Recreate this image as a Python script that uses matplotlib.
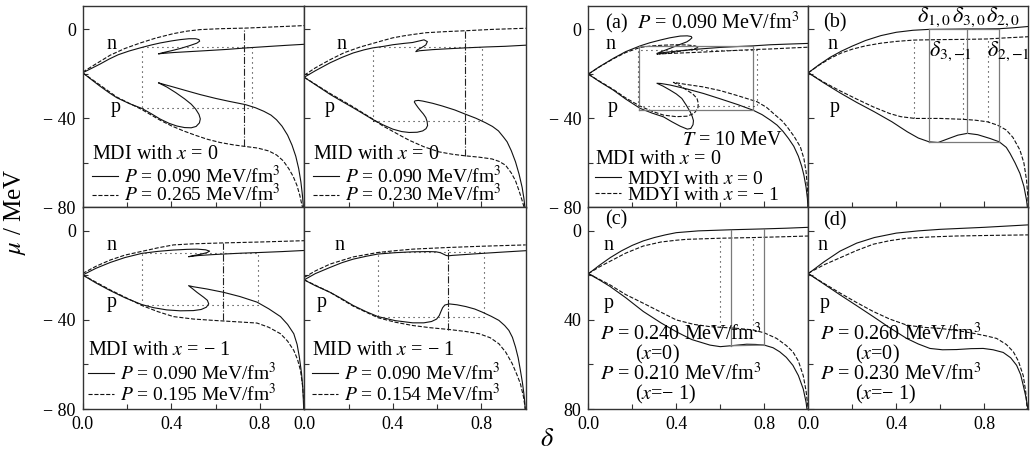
import numpy as np
import matplotlib
matplotlib.use("Agg")
import matplotlib.pyplot as plt
from matplotlib.lines import Line2D

plt.rcParams['font.family'] = ['Liberation Serif', 'DejaVu Serif']
plt.rcParams['mathtext.fontset'] = 'stix'

# ---- data: (delta, mu) pairs ----
# MDI, x = 0 (top left)
mdi0_n090 = [(0, -19.5), (0.04, -17.5), (0.078, -15.6), (0.12, -13.3), (0.16, -11.4), (0.21, -9.7),
             (0.26, -8.3), (0.31, -7.0), (0.35, -6.1), (0.40, -5.2), (0.44, -4.6), (0.48, -4.2),
             (0.51, -4.2), (0.525, -4.6), (0.528, -5.3), (0.515, -6.2), (0.48, -7.4), (0.44, -8.6),
             (0.40, -9.6), (0.36, -10.5), (0.342, -11.0), (0.36, -10.8), (0.41, -10.4), (0.48, -10.0),
             (0.55, -9.6), (0.65, -9.0), (0.742, -8.3), (0.85, -7.6), (0.93, -7.1), (1.0, -6.7)]
mdi0_n265 = [(0, -19.2), (0.06, -15.5), (0.124, -11.6), (0.19, -8.6), (0.26, -6.1), (0.33, -3.9),
             (0.41, -1.9), (0.47, -0.8), (0.53, -0.1), (0.62, 0.3), (0.742, 0.6), (0.86, 1.1), (1.0, 1.7)]
mdi0_p090 = [(0, -19.5), (0.04, -22.6), (0.078, -25.5), (0.12, -28.5), (0.154, -30.7), (0.21, -33.3),
             (0.267, -35.5), (0.31, -37.9), (0.35, -40.3), (0.39, -42.2), (0.425, -43.4), (0.46, -44.1),
             (0.49, -44.2), (0.512, -43.6), (0.527, -42.0), (0.531, -40.2), (0.525, -38.2), (0.51, -35.8),
             (0.49, -33.6), (0.46, -31.2), (0.42, -28.4), (0.38, -25.9), (0.35, -24.4), (0.342, -24.0),
             (0.37, -24.8), (0.41, -25.9), (0.47, -27.6), (0.531, -29.3), (0.6, -31.0), (0.66, -32.3),
             (0.735, -33.8), (0.78, -35.2), (0.818, -36.8), (0.85, -38.5), (0.875, -40.6), (0.9, -43.5),
             (0.925, -47.5), (0.945, -52.0), (0.962, -57.0), (0.975, -62.5), (0.985, -68.5),
             (0.992, -74.5), (0.997, -80.5)]
mdi0_p265 = [(0, -19.5), (0.078, -25.0), (0.154, -30.4), (0.21, -33.2), (0.267, -36.0), (0.31, -38.5),
             (0.35, -40.8), (0.40, -43.3), (0.455, -45.6), (0.51, -47.6), (0.561, -49.3), (0.62, -50.8),
             (0.682, -51.9), (0.735, -52.6), (0.79, -53.3), (0.84, -54.6), (0.875, -56.4), (0.905, -59.0),
             (0.93, -62.5), (0.95, -66.0), (0.967, -70.0), (0.98, -74.5), (0.99, -79.0), (0.995, -81)]
mdi0_box_x = [0.267, 0.765]
mdi0_box_y = [-35.5, -8.0]
mdi0_cut_x = 0.73
mdi0_cut_y = [-52.6, 0.6]

# MID, x = 0 (top, second)
mid0_n090 = [(0, -21.5), (0.05, -18.6), (0.117, -15.0), (0.17, -12.6), (0.221, -10.6), (0.27, -9.2),
             (0.31, -8.3), (0.36, -7.6), (0.40, -6.9), (0.45, -6.3), (0.489, -5.9), (0.541, -4.7),
             (0.556, -5.5), (0.549, -7.0), (0.53, -8.2), (0.511, -9.2), (0.504, -10.0), (0.52, -9.6),
             (0.579, -9.1), (0.65, -8.7), (0.728, -8.3), (0.82, -7.9), (0.908, -7.6), (1.0, -7.1)]
mid0_n230 = [(0, -20.6), (0.05, -17.3), (0.117, -13.6), (0.18, -10.5), (0.25, -8.0), (0.31, -6.3),
             (0.36, -4.9), (0.40, -3.8), (0.45, -2.9), (0.49, -2.3), (0.55, -1.5), (0.64, -1.0),
             (0.73, -0.6), (0.85, 0.0), (1.0, 0.5)]
mid0_p090 = [(0, -21.5), (0.05, -24.8), (0.117, -29.2), (0.17, -32.3), (0.221, -35.2), (0.27, -38.1),
             (0.31, -40.5), (0.354, -42.8), (0.40, -44.8), (0.44, -45.9), (0.474, -46.3), (0.51, -46.2),
             (0.535, -45.6), (0.55, -44.6), (0.557, -43.2), (0.555, -41.4), (0.549, -39.6), (0.538, -38.0),
             (0.526, -36.6), (0.514, -35.1), (0.504, -33.7), (0.497, -32.6), (0.50, -32.1), (0.515, -31.9),
             (0.535, -32.2), (0.58, -33.2), (0.623, -34.4), (0.68, -36.2), (0.728, -38.1), (0.775, -39.9),
             (0.818, -41.9), (0.85, -43.6), (0.877, -45.6), (0.9, -48.4), (0.916, -50.5), (0.935, -54.5),
             (0.954, -59.5), (0.97, -65.0), (0.984, -71.0), (0.992, -76.0), (0.997, -80.5)]
mid0_p230 = [(0, -21.5), (0.117, -28.8), (0.221, -34.8), (0.31, -40.3), (0.354, -43.3), (0.40, -45.8),
             (0.44, -48.0), (0.474, -49.8), (0.54, -52.7), (0.608, -55.0), (0.67, -56.1), (0.728, -56.8),
             (0.79, -57.4), (0.848, -58.2), (0.88, -59.3), (0.909, -61.0), (0.935, -64.5), (0.954, -68.0),
             (0.97, -72.5), (0.984, -76.9), (0.996, -81)]
mid0_box_x = [0.312, 0.803]
mid0_box_y = [-41.1, -8.0]
mid0_cut_x = 0.728
mid0_cut_y = [-56.8, -0.6]

# MDI, x = -1 (bottom left)
mdim1_n090 = [(0, -19.8), (0.06, -16.8), (0.124, -14.2), (0.19, -12.0), (0.267, -10.1), (0.34, -9.2),
              (0.41, -8.6), (0.47, -8.3), (0.516, -8.2), (0.555, -8.5), (0.573, -9.1), (0.56, -9.8),
              (0.531, -10.5), (0.50, -11.1), (0.478, -11.6), (0.52, -11.1), (0.58, -10.7), (0.636, -10.4),
              (0.72, -10.0), (0.802, -9.7), (0.9, -9.3), (1.0, -8.8)]
mdim1_n195 = [(0, -19.1), (0.06, -15.9), (0.124, -13.1), (0.19, -10.9), (0.267, -9.2), (0.34, -7.6),
              (0.41, -6.3), (0.5, -5.8), (0.636, -5.4), (0.8, -5.0), (1.0, -4.4)]
mdim1_p090 = [(0, -19.8), (0.06, -23.4), (0.124, -26.8), (0.19, -30.0), (0.267, -33.1), (0.32, -34.5),
              (0.38, -35.5), (0.44, -35.9), (0.5, -35.8), (0.535, -35.3), (0.558, -34.3), (0.569, -32.8),
              (0.563, -31.2), (0.546, -29.8), (0.516, -27.6), (0.495, -25.9), (0.478, -24.6), (0.50, -25.1),
              (0.561, -26.1), (0.636, -27.6), (0.71, -29.5), (0.787, -32.0), (0.84, -35.0), (0.893, -38.5),
              (0.925, -42.0), (0.953, -46.2), (0.968, -51.0), (0.978, -56.6), (0.988, -64.0),
              (0.994, -71.0), (0.998, -80.5)]
mdim1_p195 = [(0, -19.8), (0.124, -26.5), (0.267, -33.5), (0.34, -36.3), (0.41, -38.5), (0.5, -39.6),
              (0.59, -40.2), (0.69, -40.8), (0.787, -41.4), (0.84, -43.3), (0.893, -46.2), (0.925, -49.5),
              (0.953, -53.7), (0.97, -57.8), (0.983, -62.6), (0.992, -69.0), (0.997, -75.0), (1.0, -81)]
mdim1_box_x = [0.267, 0.79]
mdim1_box_y = [-33.1, -10.1]
mdim1_cut_x = 0.633
mdim1_cut_y = [-40.2, -5.4]

# MID, x = -1 (bottom, second)
midm1_n090 = [(0, -22.0), (0.05, -19.2), (0.117, -16.4), (0.17, -14.3), (0.221, -12.7), (0.28, -11.4),
              (0.333, -10.4), (0.41, -9.8), (0.49, -9.4), (0.56, -9.3), (0.595, -9.4), (0.615, -9.8),
              (0.628, -10.4), (0.64, -11.0), (0.65, -11.2), (0.67, -11.0), (0.73, -10.6), (0.804, -10.1),
              (0.9, -9.5), (1.0, -8.9)]
midm1_n154 = [(0, -20.9), (0.05, -18.0), (0.117, -14.9), (0.221, -11.7), (0.333, -9.7), (0.41, -8.9),
              (0.49, -8.2), (0.64, -7.5), (0.8, -6.9), (1.0, -6.3)]
midm1_p090 = [(0, -22.0), (0.05, -24.6), (0.117, -27.6), (0.17, -30.5), (0.221, -33.5), (0.28, -36.3),
              (0.333, -38.5), (0.41, -40.3), (0.49, -41.3), (0.54, -41.3), (0.575, -40.7), (0.598, -39.6),
              (0.61, -38.0), (0.617, -36.3), (0.625, -34.5), (0.635, -33.3), (0.655, -32.8), (0.69, -33.2),
              (0.73, -34.0), (0.77, -35.1), (0.804, -36.5), (0.845, -38.4), (0.879, -40.2), (0.905, -42.5),
              (0.924, -44.7), (0.94, -47.8), (0.954, -52.2), (0.966, -57.0), (0.976, -62.6),
              (0.985, -68.0), (0.991, -72.5), (0.996, -77.0), (0.998, -81)]
midm1_p154 = [(0, -22.0), (0.117, -27.6), (0.221, -33.8), (0.333, -39.0), (0.41, -41.0), (0.49, -42.5),
              (0.57, -43.5), (0.655, -44.3), (0.73, -45.2), (0.79, -46.2), (0.84, -48.0), (0.879, -50.7),
              (0.91, -54.5), (0.939, -59.6), (0.96, -64.5), (0.976, -68.6), (0.99, -74.5), (1.0, -81)]
midm1_box_x = [0.333, 0.81]
midm1_box_y = [-38.7, -9.7]
midm1_cut_x = 0.65
midm1_cut_y = [-44.3, -7.5]

# (a) P = 0.090, T = 10 MeV
a_n0 = [(0, -20.1), (0.05, -16.8), (0.114, -13.0), (0.17, -10.0), (0.236, -7.4), (0.28, -6.0),
        (0.327, -4.8), (0.37, -3.8), (0.418, -3.0), (0.45, -2.9), (0.468, -3.2), (0.471, -3.8),
        (0.46, -4.8), (0.448, -5.6), (0.41, -7.0), (0.372, -8.5), (0.34, -9.7), (0.312, -10.8),
        (0.36, -10.2), (0.448, -9.3), (0.52, -8.7), (0.6, -8.1), (0.68, -7.7), (0.749, -7.4),
        (0.828, -6.9), (0.91, -6.6), (1.0, -6.3)]
a_nm1 = [(0, -20.1), (0.05, -16.9), (0.114, -13.2), (0.17, -10.4), (0.236, -8.1), (0.29, -7.4),
         (0.342, -7.1), (0.40, -6.9), (0.448, -7.0), (0.485, -7.4), (0.501, -8.1), (0.48, -8.8),
         (0.418, -9.8), (0.36, -10.6), (0.312, -11.1), (0.37, -10.8), (0.448, -10.5), (0.52, -10.2),
         (0.6, -9.8), (0.68, -9.4), (0.767, -9.0), (0.828, -8.8), (0.91, -8.4), (1.0, -8.0)]
a_p0 = [(0, -20.1), (0.05, -23.4), (0.114, -27.3), (0.17, -31.3), (0.236, -35.5), (0.29, -37.6),
        (0.342, -39.3), (0.38, -41.5), (0.418, -43.5), (0.45, -44.8), (0.466, -44.5), (0.476, -42.8),
        (0.478, -41.0), (0.472, -39.0), (0.463, -37.0), (0.445, -34.0), (0.425, -31.0), (0.40, -29.0),
        (0.372, -27.3), (0.34, -25.5), (0.312, -24.2), (0.33, -24.3), (0.372, -25.0), (0.45, -26.8),
        (0.524, -28.8), (0.6, -31.2), (0.68, -33.8), (0.749, -36.3), (0.79, -38.3), (0.828, -40.8),
        (0.858, -43.0), (0.885, -45.8), (0.91, -49.0), (0.934, -52.5), (0.955, -57.0), (0.97, -61.5),
        (0.98, -65.5), (0.99, -71.0), (0.996, -76.0), (0.999, -81)]
a_pm1 = [(0, -20.1), (0.05, -23.2), (0.114, -27.0), (0.17, -30.8), (0.236, -34.5), (0.29, -36.8),
         (0.342, -38.5), (0.40, -39.2), (0.448, -39.0), (0.48, -37.8), (0.498, -35.5), (0.50, -33.2),
         (0.494, -31.0), (0.475, -29.0), (0.448, -27.3), (0.42, -25.5), (0.387, -23.8), (0.45, -24.8),
         (0.52, -25.8), (0.6, -27.5), (0.68, -29.8), (0.767, -32.5), (0.81, -35.0), (0.85, -38.5),
         (0.88, -41.0), (0.904, -43.8), (0.935, -48.0), (0.964, -52.8), (0.98, -58.0), (0.99, -64.0),
         (0.996, -71.0), (1.0, -81)]
a_box0_x = [0.232, 0.749]
a_box0_y = [-36.3, -7.4]
a_boxm1_x = [0.225, 0.767]
a_boxm1_y = [-34.5, -9.3]

# (b) P = 0.205 (x=0), 0.175 (x=-1)
b_n0 = [(0, -19.5), (0.05, -15.8), (0.1, -12.5), (0.15, -9.8), (0.2, -7.5), (0.26, -5.0), (0.33, -2.8),
        (0.4, -1.3), (0.476, -0.4), (0.549, 0.0), (0.65, 0.1), (0.72, 0.2), (0.8, 0.2), (0.868, 0.3),
        (0.93, 0.7), (1.0, 1.3)]
b_nm1 = [(0, -19.5), (0.05, -16.0), (0.1, -13.0), (0.15, -10.6), (0.2, -8.9), (0.26, -7.4), (0.33, -6.2),
         (0.4, -5.4), (0.48, -4.8), (0.6, -4.6), (0.705, -4.5), (0.815, -4.3), (0.9, -3.8), (1.0, -3.3)]
b_p0 = [(0, -19.5), (0.07, -24.0), (0.144, -28.5), (0.22, -32.8), (0.3, -37.0), (0.38, -41.5),
        (0.45, -46.0), (0.5, -48.8), (0.549, -50.5), (0.59, -50.8), (0.644, -48.8), (0.68, -47.5),
        (0.723, -46.7), (0.77, -47.3), (0.826, -49.0), (0.868, -50.5), (0.9, -53.0), (0.917, -55.7),
        (0.94, -60.0), (0.962, -64.7), (0.98, -70.5), (0.992, -76.7), (0.997, -81)]
b_pm1 = [(0, -19.5), (0.07, -23.7), (0.144, -27.6), (0.22, -31.3), (0.295, -34.8), (0.37, -37.8),
         (0.42, -39.2), (0.485, -40.0), (0.6, -40.0), (0.705, -40.4), (0.76, -40.8), (0.814, -41.5),
         (0.86, -43.0), (0.9, -45.2), (0.93, -48.5), (0.962, -54.2), (0.98, -60.0), (0.992, -67.7),
         (0.998, -75.0), (1.0, -81)]
b_d0 = [0.549, 0.723, 0.868]          # delta_{1,0}, delta_{3,0}, delta_{2,0}
b_d0_bottom = [-50.5, -46.7, -50.5]
b_d0_top = 0.0
b_dm1 = [0.48, 0.705, 0.815]
b_dm1_top = [-4.8, -4.5, -4.3]
b_dm1_bottom = [-40.0, -40.4, -41.5]

# (c) P = 0.240 (x=0), 0.210 (x=-1)
c_n0 = [(0, -19.3), (0.05, -15.5), (0.1, -12.0), (0.15, -9.0), (0.2, -6.5), (0.25, -4.5), (0.3, -3.0),
        (0.35, -1.8), (0.4, -0.8), (0.5, 0.0), (0.647, 0.5), (0.8, 0.9), (0.9, 1.2), (1.0, 1.6)]
c_nm1 = [(0, -19.2), (0.05, -16.2), (0.1, -13.6), (0.17, -10.0), (0.25, -6.8), (0.33, -5.0), (0.4, -4.2),
         (0.447, -3.8), (0.6, -3.3), (0.75, -3.0), (0.9, -2.6), (1.0, -2.3)]
c_p0 = [(0, -19.2), (0.05, -22.0), (0.098, -24.9), (0.17, -30.0), (0.25, -36.2), (0.33, -41.3),
        (0.4, -45.3), (0.47, -48.8), (0.553, -51.3), (0.6, -52.0), (0.647, -51.6), (0.72, -50.9),
        (0.76, -51.0), (0.8, -51.3), (0.84, -52.5), (0.87, -54.3), (0.9, -56.8), (0.93, -60.4),
        (0.955, -65.0), (0.977, -71.0), (0.99, -77.0), (0.995, -81)]
c_pm1 = [(0, -19.2), (0.098, -24.2), (0.17, -28.6), (0.25, -32.5), (0.33, -36.5), (0.4, -40.0),
         (0.48, -42.0), (0.553, -43.0), (0.6, -43.3), (0.68, -43.8), (0.75, -44.5), (0.8, -45.8),
         (0.856, -48.3), (0.9, -51.5), (0.93, -54.3), (0.955, -58.5), (0.977, -65.0), (0.99, -72.0),
         (0.997, -78.0), (1.0, -81)]
c_d0 = [0.647, 0.8]
c_d0_top = [0.5, 0.9]
c_d0_bottom = [-51.6, -51.3]
c_dm1 = [0.6, 0.75]
c_dm1_top = [-3.3, -3.0]
c_dm1_bottom = [-43.3, -44.5]

# (d) P = 0.260 (x=0), 0.230 (x=-1)
d_n0 = [(0, -19.2), (0.07, -14.0), (0.144, -9.1), (0.22, -5.5), (0.3, -3.0), (0.4, -1.0), (0.5, 0.0),
        (0.6, 0.7), (0.8, 1.6), (1.0, 2.7)]
d_nm1 = [(0, -19.0), (0.07, -15.3), (0.144, -12.1), (0.22, -8.8), (0.295, -6.0), (0.37, -4.4),
         (0.447, -3.3), (0.56, -2.7), (0.674, -2.3), (0.85, -2.0), (1.0, -1.8)]
d_p0 = [(0, -19.2), (0.07, -23.8), (0.144, -28.7), (0.22, -33.6), (0.295, -38.5), (0.37, -43.5),
        (0.447, -48.3), (0.5, -50.8), (0.553, -52.8), (0.61, -53.4), (0.674, -53.3), (0.74, -52.9),
        (0.795, -52.8), (0.84, -53.4), (0.886, -54.6), (0.92, -57.0), (0.947, -60.4), (0.965, -64.5),
        (0.977, -69.4), (0.99, -75.0), (1.0, -81)]
d_pm1 = [(0, -19.2), (0.07, -23.5), (0.144, -27.9), (0.22, -32.2), (0.295, -36.2), (0.37, -39.6),
         (0.447, -42.3), (0.52, -43.3), (0.598, -43.8), (0.68, -44.8), (0.75, -46.0), (0.81, -47.2),
         (0.856, -48.3), (0.9, -51.0), (0.932, -54.3), (0.955, -58.5), (0.977, -65.0), (0.988, -72.0),
         (0.995, -80.5)]

FS = 14.5      # text inside the panels
FL = 14        # legend entries
FT = 13        # tick labels
DOT = (0, (1, 3.5))
GRAY = '#7a7a7a'
MINUS = '\u2212'
W, H = 1031, 462

fig = plt.figure(figsize=(W / 100, H / 100), dpi=100)


def panel(left, top, w=221.5, h=201.5):
    ax = fig.add_axes([left / W, 1 - (top + h) / H, w / W, h / H])
    ax.set_xlim(0, 1)
    ax.set_ylim(-80, 10.5)
    ax.set_xticks([0, 0.4, 0.8])
    ax.set_xticks([0.2, 0.6], minor=True)
    ax.set_yticks([-80, -40, 0])
    ax.set_yticks([-60, -20], minor=True)
    ax.tick_params(which='both', direction='in', top=False, right=False, labelsize=FT,
                   width=0.8, color='#333333')
    ax.tick_params(which='major', length=4.5, pad=5)
    ax.tick_params(which='minor', length=3.5)
    for s in ax.spines.values():
        s.set_color('#333333')
        s.set_linewidth(1.0)
    return ax


def curve(ax, pts, ls='-'):
    x, y = np.array(pts).T
    ax.plot(x, y, color='#111111', lw=0.8, ls=ls)


def box(ax, bx, by, **kw):
    ax.plot([bx[0], bx[1], bx[1], bx[0], bx[0]], [by[0], by[0], by[1], by[1], by[0]], **kw)


def legend(ax, head, lab1, lab2, anchor, spacing):
    hs = [Line2D([], [], color='#111111', lw=0.8, ls='-'),
          Line2D([], [], color='#111111', lw=0.8, ls='--')]
    lg = ax.legend(hs, [lab1, lab2], title=head, loc='lower left', bbox_to_anchor=anchor,
                   frameon=False, fontsize=FL, title_fontsize=FS, handlelength=1.35,
                   handletextpad=0.3, labelspacing=spacing, borderpad=0, borderaxespad=0,
                   alignment='left')
    lg._legend_box.sep = 1


yl_left = [MINUS + ' 80', MINUS + ' 40', '0']

# ---------------- left group ----------------
left_panels = [
    (82.7, 6, mdi0_n090, mdi0_n265, mdi0_p090, mdi0_p265, mdi0_box_x, mdi0_box_y, mdi0_cut_x, mdi0_cut_y,
     'MDI with $x$ = 0', '0.265', (0.132, 0.147), (0.04, 0.01)),
    (304.2, 6, mid0_n090, mid0_n230, mid0_p090, mid0_p230, mid0_box_x, mid0_box_y, mid0_cut_x, mid0_cut_y,
     'MID with $x$ = 0', '0.230', (0.169, 0.115), (0.04, 0.01)),
    (82.7, 207.5, mdim1_n090, mdim1_n195, mdim1_p090, mdim1_p195, mdim1_box_x, mdim1_box_y, mdim1_cut_x,
     mdim1_cut_y, 'MDI with $x$ = ' + MINUS + ' 1', '0.195', (0.132, 0.132), (0.025, 0.02)),
    (304.2, 207.5, midm1_n090, midm1_n154, midm1_p090, midm1_p154, midm1_box_x, midm1_box_y, midm1_cut_x,
     midm1_cut_y, 'MID with $x$ = ' + MINUS + ' 1', '0.154', (0.16, 0.08), (0.035, 0.02)),
]
for i, (lx, ty, n1, n2, p1, p2, bx, by, cx, cy, head, pval, npx, anc) in enumerate(left_panels):
    ax = panel(lx, ty)
    curve(ax, n1)
    curve(ax, n2, '--')
    curve(ax, p1)
    curve(ax, p2, '--')
    box(ax, bx, by, color='#222222', lw=0.8, ls=DOT)
    ax.plot([cx, cx], cy, color='#222222', lw=0.8, ls='-.')
    top = ty < 100
    ax.text(npx[0], -6.7, 'n', fontsize=FS, ha='center', va='center')
    ax.text(npx[1], -35.3 if top else -32.2, 'p', fontsize=FS, ha='center', va='center')
    legend(ax, head, '$P$ = 0.090 MeV/fm$^3$', '$P$ = %s MeV/fm$^3$' % pval, anc,
           -0.2 if top else -0.04)
    if i % 2 == 0:
        ax.set_yticklabels(yl_left)
    else:
        ax.set_yticklabels([])
    if top:
        ax.set_xticklabels([])

# ---------------- right group ----------------
ax = panel(588.3, 6, w=220)
curve(ax, a_n0)
curve(ax, a_nm1, '--')
curve(ax, a_p0)
curve(ax, a_pm1, '--')
box(ax, a_box0_x, a_box0_y, color=GRAY, lw=0.9, ls='-')
box(ax, a_boxm1_x, a_boxm1_y, color='#222222', lw=0.8, ls=DOT)
ax.text(0.075, 3.0, '(a)  $P$ = 0.090 MeV/fm$^3$', fontsize=FS, ha='left', va='center')
ax.text(0.099, -7.0, 'n', fontsize=FS, ha='center', va='center')
ax.text(0.11, -34.9, 'p', fontsize=FS, ha='center', va='center')
ax.text(0.428, -49.8, '$T$ = 10 MeV', fontsize=FS, ha='left', va='center')
legend(ax, 'MDI with $x$ = 0', 'MDYI with $x$ = 0', 'MDYI with $x$ = ' + MINUS + ' 1', (0.03, 0.018), -0.07)
ax.set_yticklabels(yl_left)
ax.set_xticklabels([])

ax = panel(808.3, 6, w=220)
curve(ax, b_n0)
curve(ax, b_nm1, '--')
curve(ax, b_p0)
curve(ax, b_pm1, '--')
for xv, yb in zip(b_d0, b_d0_bottom):
    ax.plot([xv, xv], [yb, b_d0_top], color=GRAY, lw=0.9)
ax.plot([b_d0[0], b_d0[-1]], [b_d0_top, b_d0_top], color=GRAY, lw=0.9)
ax.plot([b_d0[0], b_d0[-1]], [b_d0_bottom[0], b_d0_bottom[-1]], color=GRAY, lw=0.9)
for xv, yt, yb in zip(b_dm1, b_dm1_top, b_dm1_bottom):
    ax.plot([xv, xv], [yb, yt], color='#222222', lw=0.8, ls=DOT)
ax.text(0.066, 3.0, '(b)', fontsize=FS, ha='left', va='center')
ax.text(0.112, -7.0, 'n', fontsize=FS, ha='center', va='center')
ax.text(0.12, -34.9, 'p', fontsize=FS, ha='center', va='center')
for xt, lab in zip([0.494, 0.653, 0.808], [r'$\delta_{1,0}$', r'$\delta_{3,0}$', r'$\delta_{2,0}$']):
    ax.text(xt, 3.3, lab, fontsize=16, ha='left', va='baseline')
for xt, lab in zip([0.548, 0.812], [r'$\delta_{3,{-1}}$', r'$\delta_{2,{-1}}$']):
    ax.text(xt, -12, lab, fontsize=16, ha='left', va='baseline')
ax.set_yticklabels([])
ax.set_xticklabels([])

right_bottom = [
    (588.3, c_n0, c_nm1, c_p0, c_pm1, '(c)', '0.240', '0.210', (0.09, 0.094), 5.0),
    (808.3, d_n0, d_nm1, d_p0, d_pm1, '(d)', '0.260', '0.230', (0.066, 0.075), 4.5),
]
for lx, n1, n2, p1, p2, tag, v0, vm1, npx, tagy in right_bottom:
    ax = panel(lx, 207.5, w=220)
    curve(ax, n1)
    curve(ax, n2, '--')
    curve(ax, p1)
    curve(ax, p2, '--')
    ax.text(0.066 if tag == '(d)' else 0.076, tagy, tag, fontsize=FS, ha='left', va='center')
    ax.text(npx[0], -6.7, 'n', fontsize=FS, ha='center', va='center')
    ax.text(npx[1], -32.4, 'p', fontsize=FS, ha='center', va='center')
    ax.text(0.052, -46.3, '$P$ = %s MeV/fm$^3$' % v0, fontsize=FS, ha='left', va='center')
    ax.text(0.212, -55.3, '($x$=0)', fontsize=FS, ha='left', va='center')
    ax.text(0.052, -64.3, '$P$ = %s MeV/fm$^3$' % vm1, fontsize=FS, ha='left', va='center')
    ax.text(0.212, -73.3, '($x$=' + MINUS + ' 1)', fontsize=FS, ha='left', va='center')
    if tag == '(c)':
        for xv, yt, yb in zip(c_d0, c_d0_top, c_d0_bottom):
            ax.plot([xv, xv], [yb, yt], color=GRAY, lw=0.9)
        ax.plot(c_d0, c_d0_bottom, color=GRAY, lw=0.9)
        for xv, yt, yb in zip(c_dm1, c_dm1_top, c_dm1_bottom):
            ax.plot([xv, xv], [yb, yt], color='#222222', lw=0.8, ls=DOT)
        ax.set_yticklabels(['80', '40', '0'])
    else:
        ax.set_yticklabels([])

fig.text(15 / W, 1 - 212 / H, r'$\mu$ / MeV', rotation=90, ha='center', va='center', fontsize=18)
fig.text(547 / W, 1 - 440 / H, r'$\delta$', ha='center', va='center', fontsize=19)

fig.savefig('out.png', dpi=100)
